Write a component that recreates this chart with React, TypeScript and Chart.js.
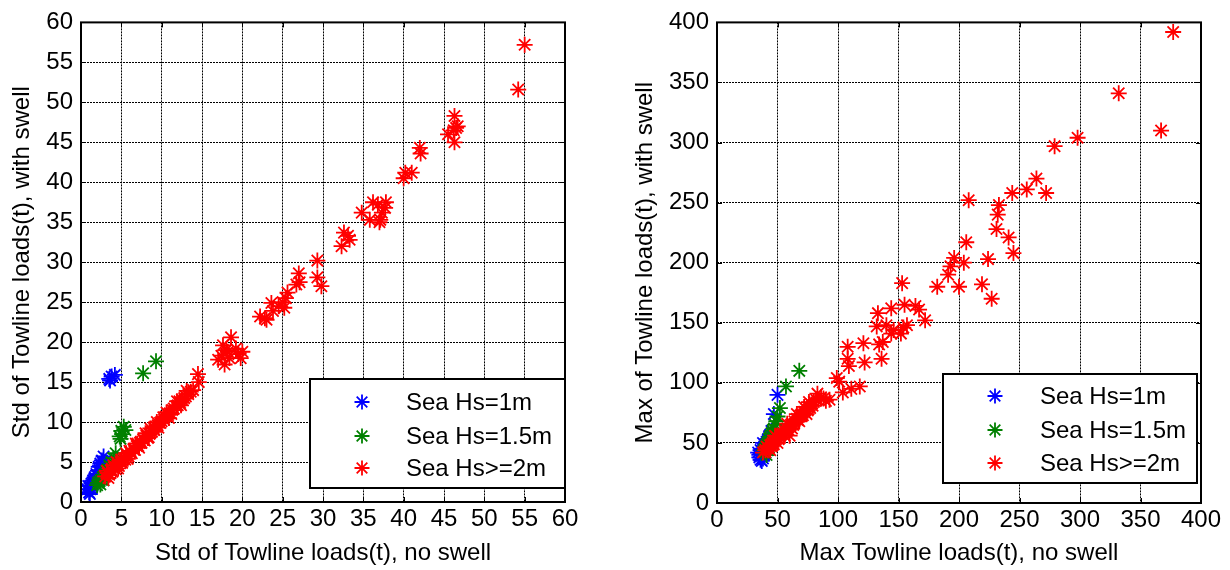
import React, { useEffect, useRef } from 'react';
import { Chart, registerables } from 'chart.js';
Chart.register(...registerables);

type P = [number, number];

// ---------- Left chart: Std of towline loads ----------
const leftBlue: P[] = [
  [3.5, 15.4], [3.8, 15.7], [4.2, 15.9], [3.6, 15.2],
  [0.8, 1.6], [1.0, 1.2], [1.1, 2.0], [1.2, 1.6], [1.3, 2.3], [1.4, 1.9], [1.5, 2.7], [1.6, 2.4],
  [1.7, 3.1], [1.8, 2.9], [1.9, 3.5], [2.0, 3.3], [2.1, 3.9], [2.2, 4.4], [2.3, 4.0], [2.4, 4.8],
  [2.5, 4.5], [2.6, 5.2], [2.8, 5.7], [2.7, 4.9], [1.1, 1.0], [0.9, 2.0],
];
const leftGreen: P[] = [
  [7.7, 16.1], [9.3, 17.6], [4.8, 8.2], [5.0, 8.9], [5.3, 9.4], [5.5, 9.0], [5.1, 8.5], [4.9, 7.9],
  [4.3, 6.1], [4.0, 5.5], [3.8, 5.0], [3.5, 4.6], [3.3, 4.1], [3.1, 3.8], [2.9, 3.4], [2.7, 3.1],
  [2.5, 2.8], [2.3, 2.6], [2.1, 2.4], [2.0, 2.1], [2.4, 2.2], [2.8, 2.7], [3.6, 4.0],
];
const leftRed: P[] = [
  [55.0, 57.2], [54.2, 51.6],
  [46.3, 48.3], [46.7, 47.0], [45.5, 46.0], [46.2, 46.5], [46.3, 45.0], [46.5, 46.8],
  [42.0, 44.3], [42.1, 43.6], [40.0, 40.5], [40.2, 41.2], [41.0, 41.2],
  [34.8, 36.2], [35.8, 35.3], [36.2, 37.5], [36.8, 37.2], [37.1, 35.3], [37.3, 36.2], [37.8, 37.5],
  [37.7, 36.8], [37.0, 35.0],
  [32.3, 32.0], [32.6, 33.7], [33.1, 33.3], [33.3, 32.8],
  [29.3, 30.2], [29.3, 28.1], [29.8, 27.0],
  [27.0, 28.6], [27.1, 27.5], [26.7, 27.2], [25.6, 26.2], [25.4, 25.5], [25.0, 25.0], [25.2, 24.3],
  [24.5, 24.5], [23.6, 24.9], [23.8, 23.9], [22.8, 23.0], [22.2, 23.2], [23.0, 22.8],
  [18.6, 20.6], [17.6, 19.6], [18.0, 19.0], [17.0, 17.8], [17.8, 17.2], [18.4, 18.0], [19.2, 19.2],
  [19.5, 18.5], [20.0, 18.8], [19.8, 18.0], [18.2, 18.8], [17.4, 18.3],
  [14.5, 16.0], [14.6, 15.0],
  [3.0, 3.2], [3.3, 3.6], [3.5, 3.4], [3.7, 4.0], [3.9, 3.8], [4.1, 4.3], [4.3, 4.1], [4.5, 4.6],
  [4.7, 4.5], [4.9, 5.0], [5.1, 4.9], [5.3, 5.4], [5.5, 5.3], [5.7, 5.8], [5.9, 5.7], [6.1, 6.2],
  [6.3, 6.1], [6.5, 6.6], [6.7, 6.5], [6.9, 7.0], [7.1, 7.0], [7.3, 7.4], [7.5, 7.4], [7.7, 7.8],
  [7.9, 7.7], [8.1, 8.3], [8.3, 8.0], [8.6, 9.2], [8.5, 8.5], [8.8, 8.8], [9.0, 9.3], [9.3, 9.4],
  [9.5, 9.6], [9.8, 9.9], [10.0, 10.1], [10.3, 10.3], [10.5, 10.7], [10.8, 10.9], [11.0, 11.1],
  [11.3, 11.5], [11.5, 11.7], [11.8, 12.0], [12.0, 12.1], [12.3, 12.4], [12.5, 12.8], [12.8, 13.0],
  [13.0, 13.2], [13.3, 13.5], [13.6, 13.8], [13.9, 14.0], [10.2, 10.6], [11.2, 11.0], [12.2, 12.6],
  [6.0, 6.4], [7.0, 7.3], [9.1, 9.0], [3.4, 3.0], [4.0, 4.6], [5.0, 5.3],
  [3.2, 3.9], [4.4, 5.0], [5.6, 6.1], [6.8, 7.3], [8.0, 8.6], [9.4, 10.0], [10.6, 11.2], [11.9, 12.6],
  [13.1, 13.9], [4.6, 4.2], [5.8, 5.4], [7.2, 6.8], [8.4, 8.1], [9.6, 9.3], [10.9, 10.5], [12.4, 12.1],
];

// ---------- Right chart: Max of towline loads ----------
const rightBlue: P[] = [
  [50, 90], [47, 74], [45, 60], [44, 57], [43, 55], [42, 53], [41, 51], [40, 49], [39, 47], [38, 45],
  [37, 43], [36, 41], [35, 40], [34, 42], [35, 38], [36, 36], [37, 35], [38, 37], [39, 40], [40, 42],
  [36, 44], [38, 50],
];
const rightGreen: P[] = [
  [68, 110], [57, 97], [52, 79], [50, 72], [49, 68], [48, 65], [47, 62], [46, 60], [45, 58], [44, 55],
  [43, 53], [42, 51], [41, 49], [40, 47], [39, 44], [40, 42], [41, 40], [42, 44], [43, 46], [44, 48],
];
const rightRed: P[] = [
  [377, 392], [332, 341], [367, 310], [298, 304], [279, 297], [264, 270], [256, 261], [244, 258],
  [272, 258], [208, 252], [233, 248], [232, 240], [231, 228], [241, 221], [245, 208], [224, 203],
  [206, 217], [204, 200], [196, 204], [193, 197], [191, 190], [200, 180], [182, 180], [219, 182],
  [227, 170], [153, 183], [155, 165], [164, 164], [167, 161], [172, 152], [144, 162], [133, 158],
  [132, 147], [140, 148], [146, 144], [154, 146], [152, 141], [157, 148], [144, 141], [121, 133],
  [108, 130], [134, 132], [137, 134], [136, 120], [108, 120], [122, 117], [109, 114], [99, 104],
  [101, 101], [104, 92], [118, 97], [111, 95], [93, 86], [83, 91], [88, 87],
  [38, 42], [40, 44], [42, 46], [44, 48], [46, 50], [48, 52], [50, 54], [52, 56], [54, 58], [56, 60],
  [58, 62], [60, 64], [62, 66], [64, 68], [66, 70], [68, 72], [70, 74], [72, 76], [74, 78], [76, 80],
  [78, 82], [80, 84], [43, 45], [47, 49], [51, 53], [55, 57], [59, 61], [63, 65], [67, 69], [71, 73],
  [75, 77], [79, 81], [45, 47], [53, 57], [61, 65], [69, 73], [77, 79], [60, 56], [82, 86], [86, 88],
  [90, 85], [41, 47], [49, 55], [44, 44], [50, 50], [56, 56], [62, 62], [68, 68], [74, 74], [48, 56],
  [58, 66], [66, 74], [72, 80], [76, 84],
];

const seriesLabels = ['Sea Hs=1m', 'Sea Hs=1.5m', 'Sea Hs>=2m'];
const seriesColors = ['#0000FF', '#008000', '#FF0000'];

const FONT = '"Liberation Sans", Arial, sans-serif';

function drawStar(ctx: CanvasRenderingContext2D, x: number, y: number, r: number, color: string) {
  ctx.save();
  ctx.strokeStyle = color;
  ctx.lineWidth = 1.8;
  ctx.beginPath();
  ctx.moveTo(x - r, y); ctx.lineTo(x + r, y);
  ctx.moveTo(x, y - r); ctx.lineTo(x, y + r);
  const d = r * Math.SQRT1_2;
  ctx.moveTo(x - d, y - d); ctx.lineTo(x + d, y + d);
  ctx.moveTo(x - d, y + d); ctx.lineTo(x + d, y - d);
  ctx.stroke();
  ctx.restore();
}

const framePlugin = {
  id: 'matlabFrame',
  afterDraw(chart: any, _args: any, opts: any) {
    const { ctx, chartArea: a } = chart;
    ctx.save();
    ctx.strokeStyle = '#000';
    ctx.lineWidth = 1;
    const tl = 5;
    const xs = chart.scales.x, ys = chart.scales.y;
    xs.ticks.forEach((t: any) => {
      const px = Math.round(xs.getPixelForValue(t.value)) + 0.5;
      ctx.beginPath();
      ctx.moveTo(px, a.bottom); ctx.lineTo(px, a.bottom - tl);
      ctx.moveTo(px, a.top); ctx.lineTo(px, a.top + tl);
      ctx.stroke();
    });
    ys.ticks.forEach((t: any) => {
      const py = Math.round(ys.getPixelForValue(t.value)) + 0.5;
      ctx.beginPath();
      ctx.moveTo(a.left, py); ctx.lineTo(a.left + tl, py);
      ctx.moveTo(a.right, py); ctx.lineTo(a.right - tl, py);
      ctx.stroke();
    });
    ctx.lineWidth = 2;
    ctx.strokeRect(a.left, a.top, a.right - a.left, a.bottom - a.top);
    const L = opts.legend;
    ctx.fillStyle = '#fff';
    ctx.fillRect(L.x, L.y, L.w, L.h);
    ctx.lineWidth = 2;
    ctx.strokeStyle = '#000';
    ctx.strokeRect(L.x, L.y, L.w, L.h);
    ctx.font = `${L.fontSize}px ${FONT}`;
    ctx.textBaseline = 'middle';
    ctx.textAlign = 'left';
    chart.data.datasets.forEach((ds: any, i: number) => {
      const yy = L.rows[i];
      drawStar(ctx, L.markerX, yy, 7.5, ds.borderColor);
      ctx.fillStyle = '#000';
      ctx.fillText(ds.label, L.textX, yy + 1);
    });
    ctx.restore();
  },
};

function makeConfig(
  sets: P[][], max: number, step: number, xTitle: string, yTitle: string,
  yWidth: number, xHeight: number, padding: any, yTitlePad: number, legend: any,
) {
  const tickFont = { family: FONT, size: 24 };
  return {
    type: 'scatter' as const,
    data: {
      datasets: sets.map((pts, i) => ({
        label: seriesLabels[i],
        data: pts.map(([x, y]) => ({ x, y })),
        borderColor: seriesColors[i],
        backgroundColor: seriesColors[i],
        pointStyle: 'star',
        pointRadius: 8,
        pointBorderWidth: 1.8,
        order: 2 - i,
      })),
    },
    options: {
      responsive: false,
      animation: false,
      events: [],
      layout: { padding },
      plugins: {
        legend: { display: false },
        tooltip: { enabled: false },
        matlabFrame: { legend },
      },
      scales: {
        x: {
          type: 'linear',
          min: 0, max,
          ticks: { stepSize: step, color: '#000', font: tickFont, padding: 3, maxRotation: 0 },
          grid: { color: '#000', lineWidth: 1, drawTicks: false },
          border: { display: false, dash: [2, 1] },
          title: { display: true, text: xTitle, color: '#000', font: tickFont, padding: { top: 2, bottom: 2 } },
          afterFit: (s: any) => { s.height = xHeight; },
        },
        y: {
          type: 'linear',
          min: 0, max,
          ticks: { stepSize: step, color: '#000', font: tickFont, padding: 8 },
          grid: { color: '#000', lineWidth: 1, drawTicks: false },
          border: { display: false, dash: [2, 1] },
          title: { display: true, text: yTitle, color: '#000', font: tickFont, padding: { top: yTitlePad, bottom: 2 } },
          afterFit: (s: any) => { s.width = yWidth; },
        },
      },
    },
    plugins: [framePlugin],
  };
}

export default function App() {
  const leftRef = useRef<HTMLCanvasElement>(null);
  const rightRef = useRef<HTMLCanvasElement>(null);

  useEffect(() => {
    const c1 = new Chart(leftRef.current as HTMLCanvasElement, makeConfig(
      [leftBlue, leftGreen, leftRed], 60, 5,
      'Std of Towline loads(t), no swell', 'Std of Towline loads(t), with swell',
      81, 68, { top: 17, right: 50, left: 0, bottom: 0 }, 8,
      { x: 310, y: 379, w: 255, h: 109, markerX: 362, textX: 406, rows: [402, 436, 468], fontSize: 24 },
    ) as any);
    const c2 = new Chart(rightRef.current as HTMLCanvasElement, makeConfig(
      [rightBlue, rightGreen, rightRed], 400, 50,
      'Max Towline loads(t), no swell', 'Max of Towline loads(t), with swell',
      102, 67, { top: 19, right: 29, left: 0, bottom: 0 }, 16,
      { x: 328, y: 374, w: 254, h: 109, markerX: 380, textX: 425, rows: [396, 430, 463], fontSize: 24 },
    ) as any);
    return () => { c1.destroy(); c2.destroy(); };
  }, []);

  return (
    <div style={{ position: 'absolute', left: 0, top: 0, width: 1230, height: 570, background: '#fff' }}>
      <canvas ref={leftRef} width={615} height={570} style={{ position: 'absolute', left: 0, top: 0 }} />
      <canvas ref={rightRef} width={615} height={570} style={{ position: 'absolute', left: 615, top: 0 }} />
    </div>
  );
}
